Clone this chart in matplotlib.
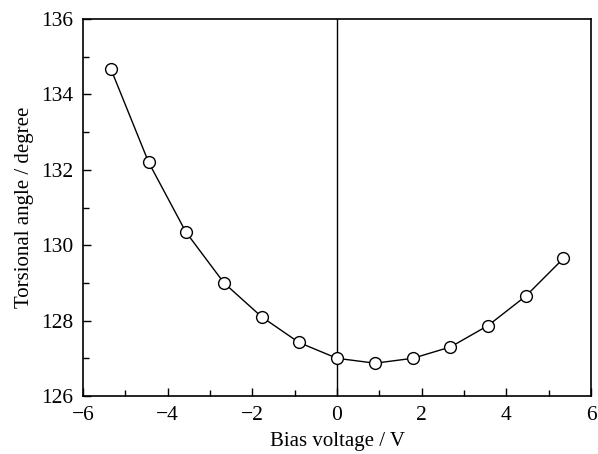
import matplotlib
matplotlib.use('Agg')
import matplotlib.pyplot as plt
from matplotlib.ticker import MultipleLocator

plt.rcParams['font.family'] = ['Liberation Serif', 'DejaVu Serif']

# bias voltage (V) and torsional angle (degree)
bias = [-5.34, -4.45, -3.57, -2.67, -1.78, -0.9, 0.0, 0.9, 1.79, 2.68, 3.57, 4.46, 5.35]
angle = [134.67, 132.2, 130.35, 129.0, 128.1, 127.42, 127.0, 126.87, 127.0, 127.3, 127.87, 128.65, 129.65]

fig = plt.figure(figsize=(5.98, 4.54), dpi=100)
ax = fig.add_axes([83/598, 1 - 396/454, (591-83)/598, (396-19)/454])

ax.axvline(0, color='black', lw=1.0, zorder=1)
ax.plot(bias, angle, color='black', lw=1.0, marker='o', markersize=8.5,
        markerfacecolor='white', markeredgecolor='black', markeredgewidth=1.0, zorder=3)

ax.set_xlim(-6, 6)
ax.set_ylim(126, 136)
ax.xaxis.set_major_locator(MultipleLocator(2))
ax.xaxis.set_minor_locator(MultipleLocator(1))
ax.yaxis.set_major_locator(MultipleLocator(2))
ax.yaxis.set_minor_locator(MultipleLocator(1))
ax.tick_params(which='both', direction='in', labelsize=15.5, width=1.0, pad=7)
ax.tick_params(which='major', length=6)
ax.tick_params(which='minor', length=4)
for s in ax.spines.values():
    s.set_linewidth(1.2)

ax.set_xlabel('Bias voltage / V', fontsize=15, labelpad=5)
ax.set_ylabel('Torsional angle / degree', fontsize=15, labelpad=5)

fig.savefig('out.png', dpi=100)
